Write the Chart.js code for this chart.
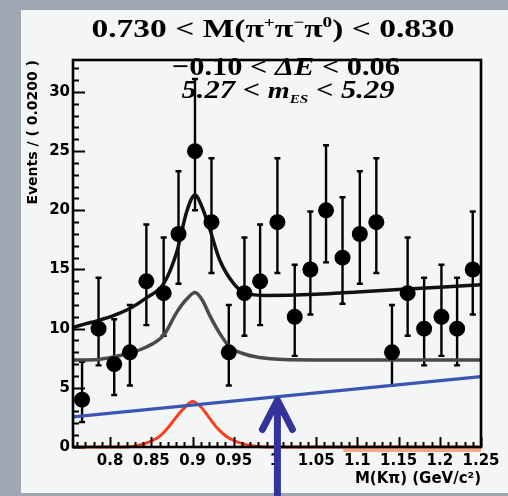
<!DOCTYPE html>
<html><head><meta charset="utf-8">
<script src="https://cdn.jsdelivr.net/npm/chart.js@4.4.1/dist/chart.umd.min.js"></script>
<style>
html,body{margin:0;padding:0;width:508px;height:496px;overflow:hidden;background:#a0a6b2;}
#panel{position:absolute;left:21px;top:10px;width:487px;height:483px;background:#f4f6f5;}
#wrap{position:absolute;left:0;top:0;width:508px;height:496px;}
</style></head><body>
<div id="panel"></div>
<div id="wrap"><canvas id="c" width="508" height="496"></canvas></div>
<script>
// ---- data ----
const massBins = [0.766,0.786,0.805,0.824,0.844,0.865,0.883,0.903,0.923,0.944,0.963,0.982,1.003,1.024,1.043,1.062,1.082,1.103,1.123,1.142,1.161,1.181,1.202,1.221,1.240];
const events   = [4,10,7,8,14,13,18,25,19,8,13,14,19,11,15,20,16,18,19,8,13,10,11,10,15];
const errLow   = [1.9,3.1,2.6,2.8,3.7,3.6,4.2,5.0,4.3,2.8,3.6,3.7,4.3,3.3,3.8,4.4,3.9,4.2,4.3,2.8,3.6,3.1,3.3,3.1,3.8];
const errHigh  = [3.2,4.3,3.8,4.0,4.8,4.7,5.3,6.1,5.4,4.0,4.7,4.8,5.4,4.4,4.9,5.5,5.1,5.3,5.4,4.0,4.7,4.3,4.4,4.3,4.9];

const totalFitX = [0.755,0.770,0.786,0.804,0.824,0.844,0.865,0.881,0.893,0.903,0.912,0.921,0.933,0.950,0.964,0.990,1.050,1.100,1.150,1.200,1.250];
const totalFitY = [10.1,10.4,10.7,11.1,11.7,12.6,13.8,16.5,19.9,21.3,20.2,18.4,15.8,13.8,13.0,12.8,12.9,13.1,13.3,13.5,13.7];

const bkgFitX = [0.755,0.786,0.804,0.824,0.844,0.865,0.881,0.893,0.903,0.912,0.921,0.933,0.945,0.961,0.981,1.010,1.100,1.250];
const bkgFitY = [7.35,7.4,7.6,7.95,8.45,9.45,11.4,12.5,13.05,12.4,11.1,9.6,8.46,7.9,7.57,7.4,7.35,7.35];

const combX = [0.755,1.250];
const combY = [2.55,5.95];

const sigX = [0.755,0.820,0.835,0.850,0.860,0.870,0.880,0.890,0.900,0.910,0.920,0.930,0.940,0.950,0.965,0.980,1.000,1.250];
const sigY = [0,0,0.15,0.5,0.9,1.6,2.5,3.3,3.85,3.4,2.5,1.6,0.95,0.55,0.2,0.05,0,0];

const shadowX = [1.083,1.250];
const shadowY = [-0.3,-0.3];

const xTicks = [0.8,0.85,0.9,0.95,1.0,1.05,1.1,1.15,1.2,1.25];
const yTicks = [0,5,10,15,20,25,30];

const arrowAt = {x:1.003, y:4.1};

const titleLines = [
  {cx:273, y:37, w:363, segs:[
    {t:'0.730 < M(π', f:'bold 26px "Liberation Serif"'},
    {t:'+', f:'bold 15px "Liberation Serif"', dy:-10},
    {t:'π', f:'bold 26px "Liberation Serif"'},
    {t:'−', f:'bold 15px "Liberation Serif"', dy:-10},
    {t:'π', f:'bold 26px "Liberation Serif"'},
    {t:'0', f:'bold 15px "Liberation Serif"', dy:-10},
    {t:') < 0.830', f:'bold 26px "Liberation Serif"'}]},
  {cx:286, y:75, w:228, segs:[
    {t:'−0.10 < ', f:'bold 26px "Liberation Serif"'},
    {t:'ΔE', f:'italic bold 26px "Liberation Serif"'},
    {t:' < 0.06', f:'bold 26px "Liberation Serif"'}]},
  {cx:288, y:98, w:213, segs:[
    {t:'5.27 < ', f:'italic bold 26px "Liberation Serif"'},
    {t:'m', f:'italic bold 24px "Liberation Serif"'},
    {t:'ES', f:'italic bold 13px "Liberation Serif"', dy:5},
    {t:' < 5.29', f:'italic bold 26px "Liberation Serif"'}]}
];

const xy = (xs, ys) => xs.map((v,i)=>({x:v, y:ys[i]}));

const framePlugin = {
  id:'frame',
  beforeDatasetsDraw(chart){
    const {ctx, scales:{x,y}} = chart;
    ctx.save(); ctx.strokeStyle='#000'; ctx.lineWidth=2.4;
    massBins.forEach((m,i)=>{
      const px = x.getPixelForValue(m);
      const top = y.getPixelForValue(events[i]+errHigh[i]);
      const bot = y.getPixelForValue(Math.max(0, events[i]-errLow[i]));
      ctx.beginPath();
      ctx.moveTo(px, top); ctx.lineTo(px, bot);
      ctx.moveTo(px-3, top); ctx.lineTo(px+3, top);
      ctx.moveTo(px-3, bot); ctx.lineTo(px+3, bot);
      ctx.stroke();
    });
    ctx.restore();
  },
  afterDatasetsDraw(chart){
    const {ctx, chartArea:a, scales:{x,y}} = chart;
    ctx.save();
    ctx.strokeStyle='#000';
    ctx.lineWidth=2.6;
    ctx.strokeRect(a.left, a.top, a.right-a.left, a.bottom-a.top);
    ctx.lineWidth=2;
    ctx.beginPath();
    for (let v=Math.ceil(y.min); v<=y.max; v++){
      const py = Math.round(y.getPixelForValue(v))+0.5;
      const len = yTicks.includes(v) ? 12 : 6;
      ctx.moveTo(a.left, py); ctx.lineTo(a.left+len, py);
    }
    for (let k=Math.ceil(x.min*100-1e-6); k<=Math.floor(x.max*100+1e-6); k++){
      const v = k/100;
      const px = Math.round(x.getPixelForValue(v))+0.5;
      const major = xTicks.some(t=>Math.abs(t-v)<1e-6);
      const len = major ? 10 : 5;
      ctx.moveTo(px, a.bottom); ctx.lineTo(px, a.bottom-len);
    }
    ctx.stroke();
    ctx.fillStyle='#000'; ctx.textBaseline='alphabetic'; ctx.textAlign='left';
    titleLines.forEach(line=>{
      let w=0;
      line.segs.forEach(s=>{ctx.font=s.f; w+=ctx.measureText(s.t).width;});
      const k = line.w / w;
      ctx.save();
      ctx.translate(line.cx - line.w/2, line.y);
      ctx.scale(k, 1);
      let cx = 0;
      line.segs.forEach(s=>{ctx.font=s.f; ctx.fillText(s.t, cx, (s.dy||0)); cx+=ctx.measureText(s.t).width;});
      ctx.restore();
    });
    ctx.restore();
  },
  afterDraw(chart){
    const {ctx, scales:{x,y}} = chart;
    const tx = x.getPixelForValue(arrowAt.x), ty = y.getPixelForValue(arrowAt.y);
    ctx.save();
    ctx.strokeStyle='#34339a'; ctx.lineWidth=7; ctx.lineCap='round'; ctx.lineJoin='round';
    ctx.beginPath();
    ctx.moveTo(tx, chart.height+10); ctx.lineTo(tx, ty+2);
    ctx.moveTo(tx-15, ty+31); ctx.lineTo(tx, ty+2); ctx.lineTo(tx+15, ty+31);
    ctx.stroke();
    ctx.restore();
  }
};

const lineDs = (label, xs, ys, color, width, extra) => Object.assign({
  label, data: xy(xs, ys), showLine:true, borderColor:color, backgroundColor:color,
  borderWidth:width, pointRadius:0, cubicInterpolationMode:'monotone', fill:false
}, extra||{});

new Chart(document.getElementById('c'), {
  type:'scatter',
  data:{ datasets:[
    {label:'Data', data: xy(massBins, events), pointRadius:8, pointBackgroundColor:'#000', pointBorderColor:'#000', pointBorderWidth:0, showLine:false},
    lineDs('Total fit', totalFitX, totalFitY, '#111111', 3.5),
    lineDs('Background', bkgFitX, bkgFitY, '#4a4a4a', 3.5),
    lineDs('Combinatoric', combX, combY, '#3a55b4', 3.2),
    lineDs('Signal', sigX, sigY, '#ff3b1e', 3, {clip:false}),
    lineDs('Signal shadow', shadowX, shadowY, '#f4a68a', 3, {clip:false, cubicInterpolationMode:'default'})
  ]},
  options:{
    responsive:false, animation:false, devicePixelRatio:1,
    layout:{padding:{left:0, right:27, top:60, bottom:0}},
    plugins:{legend:{display:false}, tooltip:{enabled:false}, title:{display:false}},
    scales:{
      x:{type:'linear', min:0.755, max:1.25,
        grid:{display:false, drawTicks:false}, border:{display:false},
        afterBuildTicks: s => { s.ticks = xTicks.map(v=>({value:v})); },
        afterFit: s => { s.height = 49; },
        ticks:{padding:5, color:'#000', font:{family:'"DejaVu Sans"', weight:'bold', size:15},
          maxRotation:0, autoSkip:false,
          callback: v => String(Math.round(v*100)/100)},
        title:{display:true, text:'M(Kπ) (GeV/c²)', align:'end', color:'#000',
          font:{family:'"DejaVu Sans"', weight:'bold', size:15}, padding:{top:0, bottom:8}}
      },
      y:{type:'linear', min:0, max:32.7,
        grid:{display:false, drawTicks:false}, border:{display:false},
        afterBuildTicks: s => { s.ticks = yTicks.map(v=>({value:v})); },
        afterFit: s => { s.width = 73; },
        ticks:{padding:3, color:'#000', font:{family:'"DejaVu Sans"', weight:'bold', size:15}},
        title:{display:true, text:'Events / ( 0.0200 )', align:'end', color:'#000',
          font:{family:'"DejaVu Sans"', weight:'bold', size:14}, padding:{top:25, bottom:0}}
      }
    }
  },
  plugins:[framePlugin]
});
</script>
</body></html>
